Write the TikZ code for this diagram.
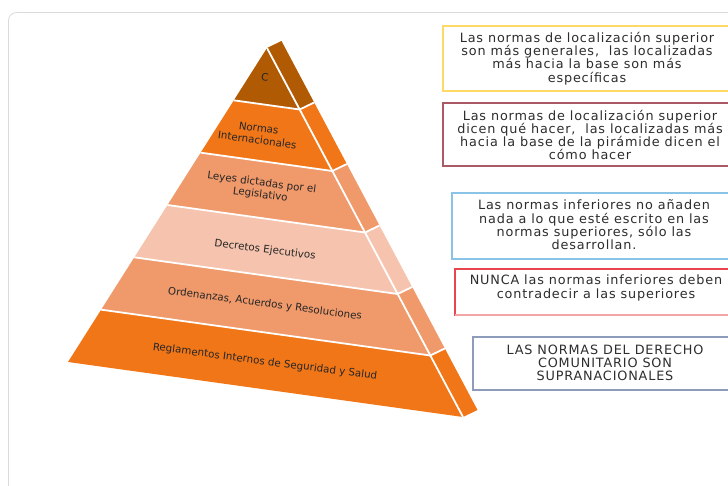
\documentclass[tikz,border=0pt]{standalone}
\usepackage{fontspec}
\setmainfont{DejaVu Sans}
\usetikzlibrary{calc}
\definecolor{tierbrown}{RGB}{176,90,4}
\definecolor{tierorange}{RGB}{241,118,24}
\definecolor{tiersalmon}{RGB}{240,153,106}
\definecolor{tierpeach}{RGB}{246,196,174}
\definecolor{edgeyellow}{RGB}{255,217,102}
\definecolor{edgerose}{RGB}{170,90,100}
\definecolor{edgesky}{RGB}{137,196,230}
\definecolor{edgered}{RGB}{232,70,76}
\definecolor{edgepink}{RGB}{244,165,165}
\definecolor{edgeslate}{RGB}{142,155,187}
\definecolor{notetext}{RGB}{45,45,45}
\newfontfamily\notefont[LetterSpace=6.6]{DejaVu Sans}
\begin{document}
\begin{tikzpicture}[x=1pt,y=-1pt,
  tierlabel/.style={font=\fontsize{10.3}{12}\selectfont, text=black!85, rotate=-7.5, align=center, inner sep=0pt},
  note/.style={font=\notefont\fontsize{12.8}{13.3}\selectfont, text=notetext, align=center, inner sep=0pt},
  notebox/.style={line width=1.1pt, fill=white},
  gap/.style={draw=white, line width=1.8pt}
]
\useasboundingbox (0,0) rectangle (728,486);

% outer panel
\draw[black!14, line width=0.8pt, rounded corners=8pt] (8.5,520) |- (760,12.5);

% pyramid corners and tier boundaries
\coordinate (A) at (267,48);
\coordinate (BL) at (68,362);
\coordinate (BR) at (463,417);
\foreach \i in {0,...,6} {
  \coordinate (l\i) at ($(A)!\i/6!(BL)$);
  \coordinate (r\i) at ($(A)!\i/6!(BR)$);
  \coordinate (s\i) at ($(r\i)+(14.5,-7)$);
}

% tiers: front face and side strip
\foreach \i/\j/\c in {0/1/tierbrown,1/2/tierorange,2/3/tiersalmon,3/4/tierpeach,4/5/tiersalmon,5/6/tierorange} {
  \fill[\c] (l\i) -- (l\j) -- (r\j) -- (r\i) -- cycle;
  \fill[\c] (r\i) -- (r\j) -- (s\j) -- (s\i) -- cycle;
}

% white seams between tiers and faces
\foreach \i in {1,...,5} {
  \draw[gap] (l\i) -- (r\i) -- (s\i);
}
\draw[gap] (A) -- (BR);

% tier labels
\node[tierlabel] (t1) at (265,77) {C};
\node[tierlabel] (t2) at (258,134) {Normas\\Internacionales};
\node[tierlabel] (t3) at (261,189) {Leyes dictadas por el\\Legislativo};
\node[tierlabel] (t4) at (265,250) {Decretos Ejecutivos};
\node[tierlabel] (t5) at (265,304) {Ordenanzas, Acuerdos y Resoluciones};
\node[tierlabel] (t6) at (265,362) {Reglamentos Internos de Seguridad y Salud};

% notes on the right
\draw[notebox, draw=edgeyellow] (443,26) rectangle (740,91);
\node[note] (n1) at (587,58.5) {Las normas de localización superior\\son más generales,\ \ las localizadas\\más hacia la base son más\\específicas};

\draw[notebox, draw=edgerose] (443,103) rectangle (740,166);
\node[note] (n2) at (590,135) {Las normas de localización superior\\dicen qué hacer,\ \ las localizadas más\\hacia la base de la pirámide dicen el\\cómo hacer};

\draw[notebox, draw=edgesky] (452,193) rectangle (740,259);
\node[note] (n3) at (594,225) {Las normas inferiores no añaden\\nada a lo que esté escrito en las\\normas superiores, sólo las\\desarrollan.};

\draw[notebox, draw=edgered] (455,269) rectangle (740,315);
\draw[edgepink, line width=1.1pt] (455,315) -- (740,315);
\node[note] (n4) at (596,288) {NUNCA las normas inferiores deben\\contradecir a las superiores};

\draw[notebox, draw=edgeslate] (473,337) rectangle (740,390);
\node[note] (n5) at (605,363) {LAS NORMAS DEL DERECHO\\COMUNITARIO SON\\SUPRANACIONALES};
\end{tikzpicture}
\end{document}
